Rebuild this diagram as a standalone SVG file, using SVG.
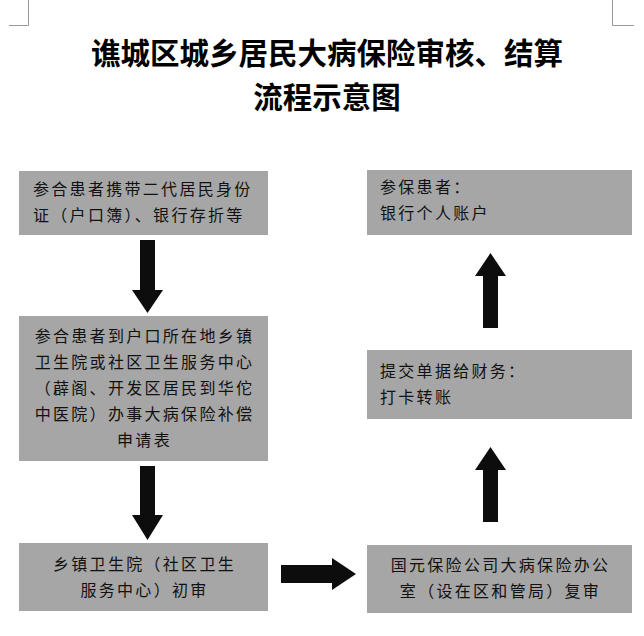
<svg xmlns="http://www.w3.org/2000/svg" width="644" height="636" viewBox="0 0 644 636">
<style>
.box{fill:#a6a6a6}
.t{font-family:"Noto Sans CJK SC","Noto Sans",sans-serif;font-size:16px;letter-spacing:2.3px;fill:#111}
.c{text-anchor:middle}
.title{font-family:"Noto Sans CJK SC",sans-serif;font-size:29.5px;font-weight:bold;text-anchor:middle;fill:#000}
.mark{stroke:#999;fill:none;stroke-width:1}
.arr{fill:#0d0d0d}
</style>
<rect width="644" height="636" fill="#fff"/>
<path class="mark" d="M28.5 0V25.5H9M612.5 0V25.5H634"/>
<text class="title" x="327" y="64">谯城区城乡居民大病保险审核、结算</text>
<text class="title" x="327" y="108">流程示意图</text>
<g id="n1"><rect class="box" x="19" y="171" width="249" height="64"/>
<text class="t" x="33" y="195">参合患者携带二代居民身份</text><text class="t" x="33" y="221">证（户口簿）、银行存折等</text></g>
<g id="n2"><rect class="box" x="19" y="316" width="249" height="145"/>
<text class="t c" x="144.5" y="342">参合患者到户口所在地乡镇</text>
<text class="t c" x="144.5" y="368">卫生院或社区卫生服务中心</text>
<text class="t c" x="144.5" y="394">（薜阁、开发区居民到华佗</text>
<text class="t c" x="144.5" y="420">中医院）办事大病保险补偿</text>
<text class="t c" x="144.5" y="446">申请表</text></g>
<g id="n3"><rect class="box" x="19" y="543" width="249" height="68"/>
<text class="t c" x="144.5" y="570">乡镇卫生院（社区卫生</text><text class="t c" x="144.5" y="596">服务中心）初审</text></g>
<g id="n4"><rect class="box" x="367" y="545" width="265" height="68"/>
<text class="t c" x="500.5" y="571">国元保险公司大病保险办公</text><text class="t c" x="500.5" y="597">室（设在区和管局）复审</text></g>
<g id="n5"><rect class="box" x="367" y="350" width="265" height="69"/>
<text class="t" x="380" y="377">提交单据给财务：</text><text class="t" x="380" y="403">打卡转账</text></g>
<g id="n6"><rect class="box" x="367" y="170" width="265" height="65"/>
<text class="t" x="380" y="193">参保患者：</text><text class="t" x="380" y="219">银行个人账户</text></g>
<g id="connectors">
<polygon class="arr" points="140,240 155,240 155,290 163,290 147.5,313 132,290 140,290"/>
<polygon class="arr" points="140,466 155,466 155,515 163,515 147.5,540 132,515 140,515"/>
<polygon class="arr" points="281,565 332,565 332,558 356,574 332,590 332,583 281,583"/>
<polygon class="arr" points="483,522 498,522 498,470 506,470 490.5,447 475,470 483,470"/>
<polygon class="arr" points="483,328 498,328 498,276 506,276 490.5,253 475,276 483,276"/>
</g>
</svg>
